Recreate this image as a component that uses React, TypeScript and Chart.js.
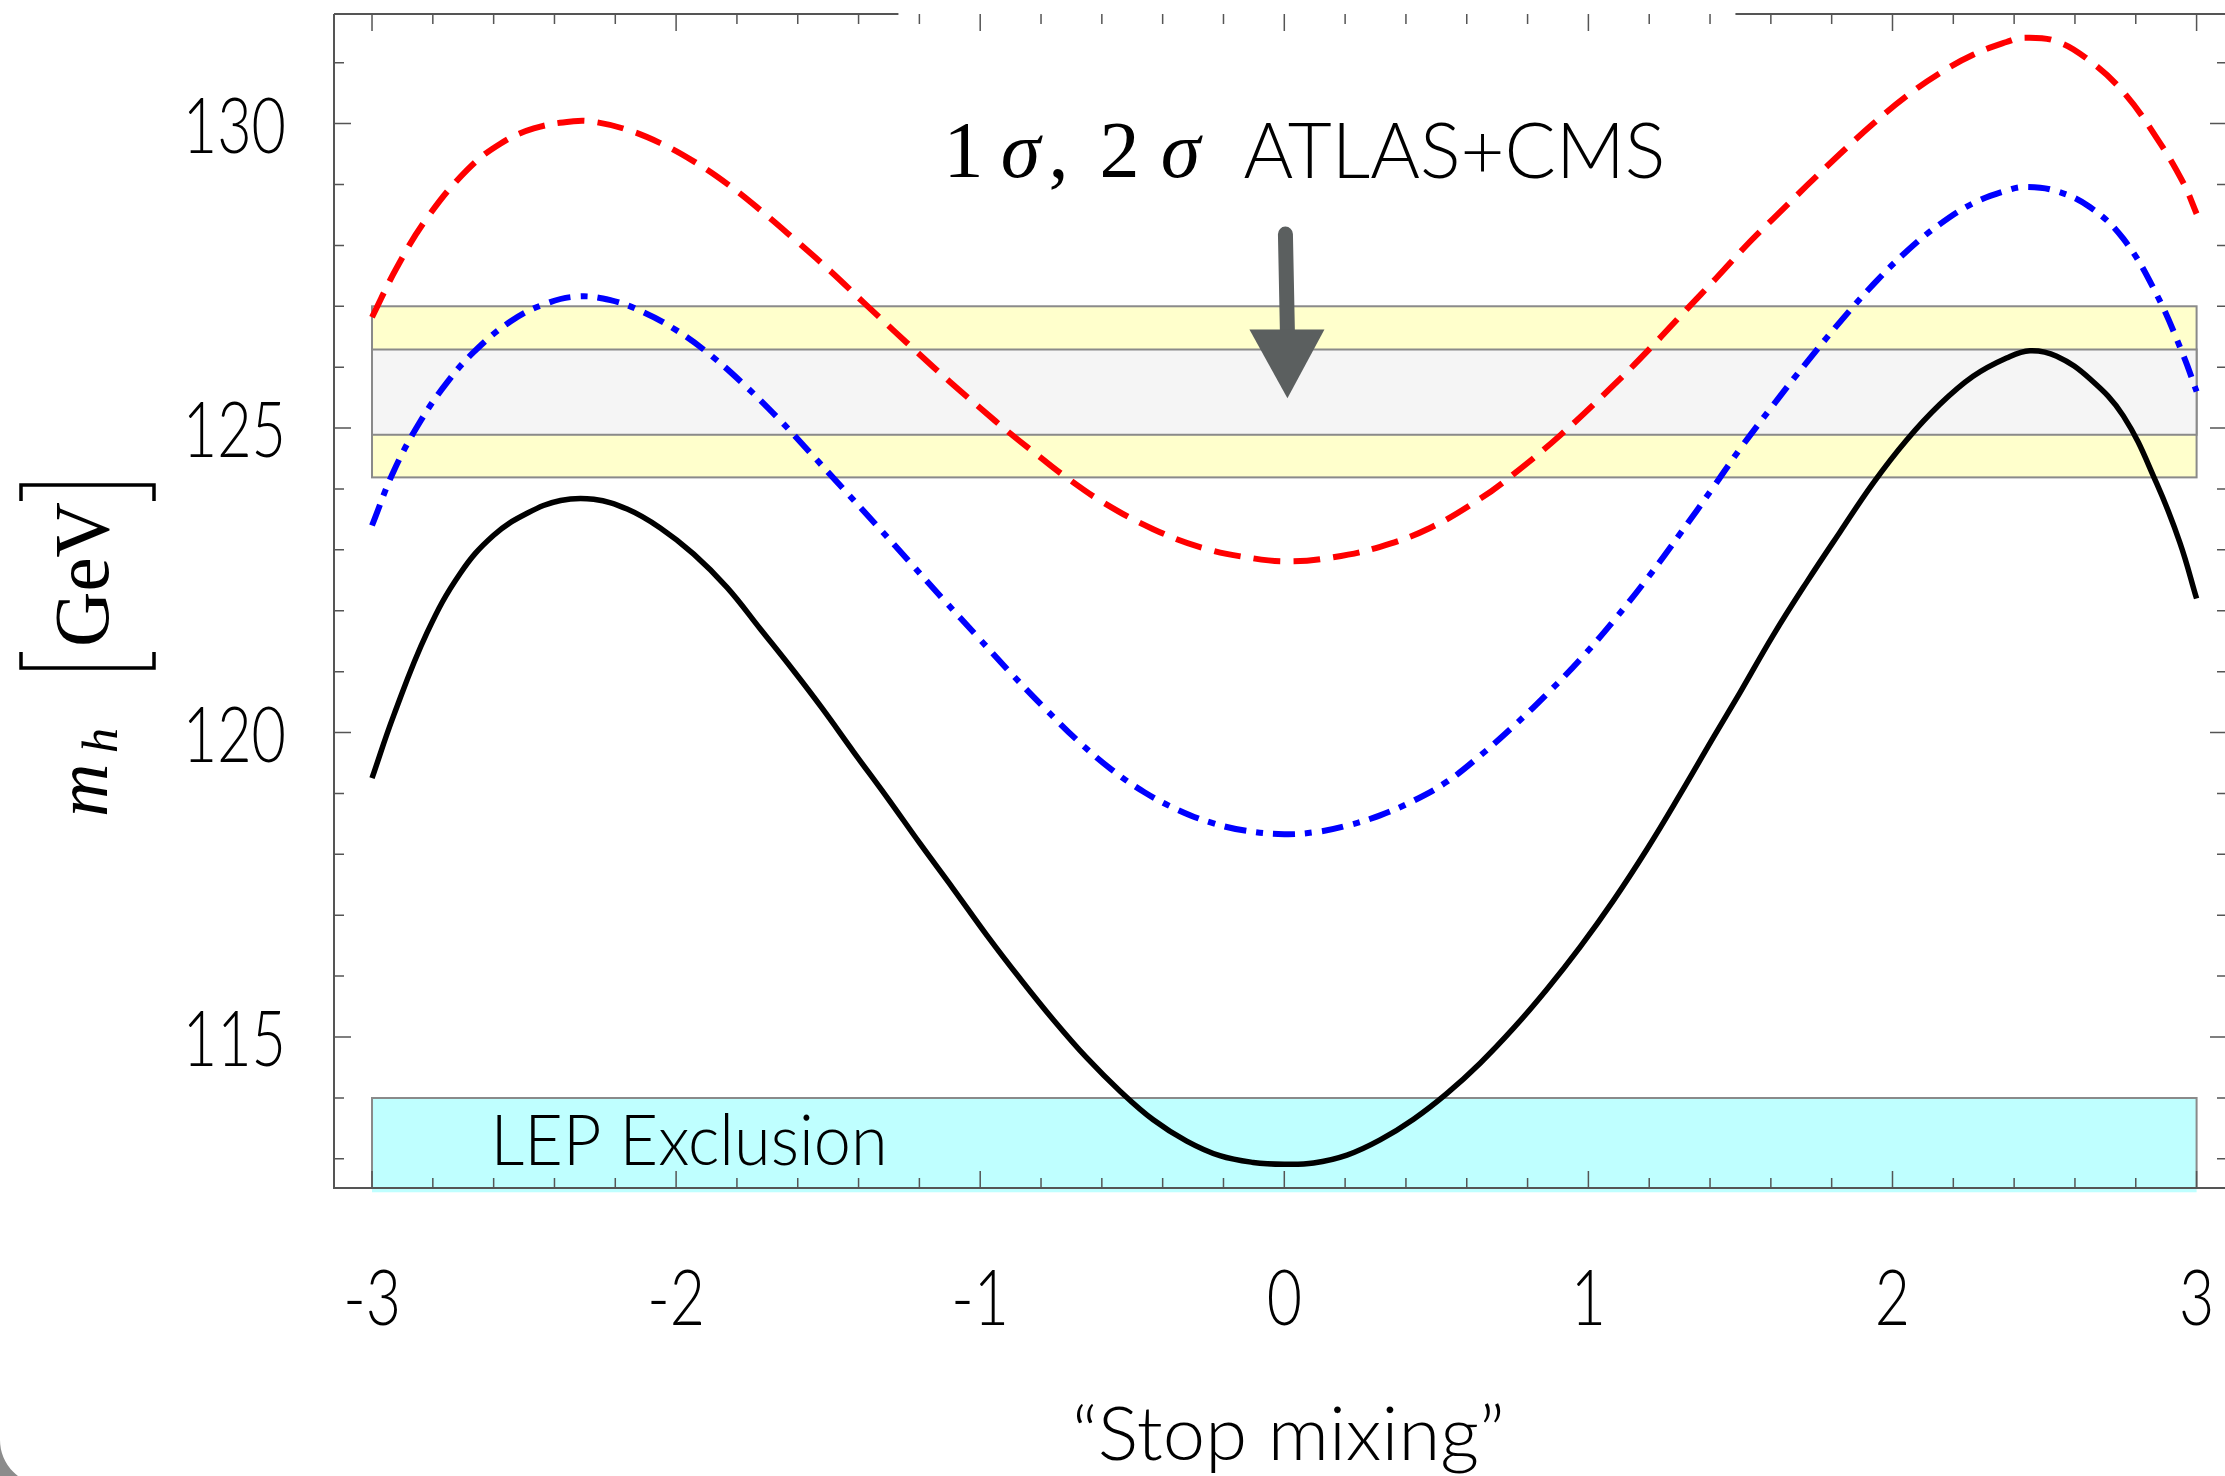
import React, { useEffect, useRef } from "react";
import { Chart, registerables } from "chart.js";

Chart.register(...registerables);

// ---------- data ----------
const blackX = [-3, -2.928, -2.819, -2.709, -2.6, -2.49, -2.38, -2.271, -2.161, -2.052, -1.942, -1.832, -1.723, -1.613, -1.52, -1.416, -1.307, -1.197, -1.088, -0.978, -0.869, -0.759, -0.65, -0.54, -0.431, -0.321, -0.212, -0.102, 0, 0.096, 0.206, 0.315, 0.425, 0.534, 0.644, 0.753, 0.863, 0.973, 1.082, 1.192, 1.301, 1.411, 1.499, 1.608, 1.718, 1.827, 1.937, 2.046, 2.156, 2.265, 2.375, 2.452, 2.54, 2.649, 2.759, 2.868, 2.945, 3];
const blackMh = [119.25, 120.29, 121.64, 122.62, 123.24, 123.6, 123.81, 123.83, 123.67, 123.36, 122.93, 122.38, 121.7, 121.01, 120.4, 119.68, 118.94, 118.17, 117.43, 116.67, 115.96, 115.28, 114.66, 114.11, 113.64, 113.29, 113.05, 112.94, 112.91, 112.93, 113.06, 113.31, 113.65, 114.07, 114.57, 115.14, 115.78, 116.48, 117.24, 118.08, 118.98, 119.92, 120.66, 121.6, 122.47, 123.29, 124.1, 124.8, 125.39, 125.85, 126.15, 126.27, 126.18, 125.81, 125.2, 124.1, 123.12, 122.2];

const redX = [-3, -2.917, -2.819, -2.687, -2.578, -2.468, -2.337, -2.271, -2.161, -2.052, -1.942, -1.832, -1.723, -1.613, -1.493, -1.383, -1.28, -1.208, -1.1, -1, -0.901, -0.8, -0.722, -0.596, -0.431, -0.267, -0.102, 0.018, 0.151, 0.315, 0.479, 0.644, 0.753, 0.907, 1.082, 1.203, 1.323, 1.42, 1.531, 1.608, 1.718, 1.827, 1.937, 2.046, 2.156, 2.265, 2.375, 2.43, 2.54, 2.649, 2.759, 2.868, 2.956, 3];
const redMh = [126.82, 127.65, 128.45, 129.24, 129.67, 129.92, 130.04, 130.03, 129.9, 129.68, 129.38, 129.01, 128.58, 128.11, 127.58, 127.06, 126.58, 126.25, 125.76, 125.33, 124.91, 124.51, 124.21, 123.78, 123.34, 123.03, 122.86, 122.81, 122.87, 123.05, 123.36, 123.84, 124.24, 124.88, 125.7, 126.31, 126.95, 127.46, 128.06, 128.44, 128.98, 129.5, 130.0, 130.45, 130.83, 131.13, 131.34, 131.41, 131.35, 131.03, 130.52, 129.77, 129.03, 128.52];

const blueX = [-3, -2.928, -2.84, -2.753, -2.665, -2.545, -2.435, -2.326, -2.216, -2.106, -1.997, -1.887, -1.778, -1.668, -1.56, -1.45, -1.34, -1.23, -1.12, -1.01, -0.9, -0.79, -0.68, -0.57, -0.46, -0.35, -0.24, -0.13, 0, 0.11, 0.206, 0.315, 0.425, 0.534, 0.644, 0.753, 0.863, 0.973, 1.082, 1.192, 1.301, 1.411, 1.499, 1.608, 1.718, 1.827, 1.937, 2.046, 2.156, 2.265, 2.375, 2.44, 2.54, 2.649, 2.759, 2.868, 2.956, 3];
const blueMh = [123.4, 124.3, 125.12, 125.75, 126.25, 126.75, 127.03, 127.16, 127.1, 126.9, 126.6, 126.2, 125.72, 125.18, 124.6, 124.0, 123.4, 122.79, 122.18, 121.58, 120.98, 120.41, 119.87, 119.4, 119.02, 118.73, 118.52, 118.39, 118.33, 118.37, 118.47, 118.64, 118.88, 119.19, 119.62, 120.1, 120.63, 121.2, 121.83, 122.52, 123.26, 124.03, 124.66, 125.38, 126.08, 126.74, 127.36, 127.9, 128.35, 128.69, 128.9, 128.96, 128.89, 128.63, 128.11, 127.2, 126.2, 125.6];

const bandX = [-3, 3];
const band2Sigma = [124.19, 127.0];
const band1Sigma = [124.89, 126.29];
const lepBand = [112.45, 114.0];

const xRange = [-3.125, 3.1];
const yRange = [112.52, 131.8];
const xTickLabels = [-3, -2, -1, 0, 1, 2, 3];
const yTickLabels = [115, 120, 125, 130];

const arrowX = 0.007;
const arrowY = [128.3, 126.62, 125.49]; // shaft top, head base, tip
const annotY = 129.13;
const lepLabel = { x: -2.61, y: 112.89 };

const SANS = '"Lato", "Open Sans", sans-serif';
const SERIF = '"Liberation Serif", "DejaVu Serif", serif';
const FRAME = "#555555";

function drawScaled(ctx: CanvasRenderingContext2D, text: string, x: number, y: number, sx: number, align: CanvasTextAlign) {
  ctx.save();
  ctx.translate(x, y);
  ctx.scale(sx, 1);
  ctx.textAlign = align;
  ctx.textBaseline = "alphabetic";
  ctx.fillText(text, 0, 0);
  ctx.restore();
}

function drawFit(ctx: CanvasRenderingContext2D, text: string, x: number, y: number, width: number, align: CanvasTextAlign) {
  const w = ctx.measureText(text).width || 1;
  drawScaled(ctx, text, x, y, width / w, align);
}

const decor = {
  id: "decor",
  beforeDatasetsDraw(chart: any) {
    const { ctx, scales, chartArea } = chart;
    const x = scales.x, y = scales.y;
    ctx.save();
    const px0 = x.getPixelForValue(bandX[0]);
    const px1 = x.getPixelForValue(bandX[1]);
    const rect = (yy: number[], fill: string) => {
      const pyTop = y.getPixelForValue(yy[1]);
      const pyBot = y.getPixelForValue(yy[0]);
      ctx.fillStyle = fill;
      ctx.fillRect(px0, pyTop, px1 - px0, pyBot - pyTop);
      ctx.strokeStyle = "#8a8a8a";
      ctx.lineWidth = 2;
      ctx.strokeRect(px0, pyTop, px1 - px0, pyBot - pyTop);
    };
    {
      const pyTop = y.getPixelForValue(lepBand[1]);
      const pyBot = y.getPixelForValue(lepBand[0]);
      ctx.fillStyle = "#bfffff";
      ctx.fillRect(px0, pyTop, px1 - px0, pyBot - pyTop);
      ctx.strokeStyle = "#8a8a8a";
      ctx.lineWidth = 2;
      ctx.beginPath();
      ctx.moveTo(px0, chartArea.bottom);
      ctx.lineTo(px0, pyTop);
      ctx.lineTo(px1, pyTop);
      ctx.lineTo(px1, chartArea.bottom);
      ctx.stroke();
    }
    rect(band2Sigma, "#ffffcc");
    rect(band1Sigma, "#f5f5f5");

    ctx.fillStyle = "#000";
    ctx.font = `300 70px ${SANS}`;
    drawFit(ctx, "LEP Exclusion", x.getPixelForValue(lepLabel.x), y.getPixelForValue(lepLabel.y), 397, "left");
    ctx.restore();
  },
  afterDatasetsDraw(chart: any) {
    const { ctx, scales, chartArea } = chart;
    const x = scales.x, y = scales.y;
    const L = chartArea.left, R = chartArea.right, T = chartArea.top, B = chartArea.bottom;
    const ax = x.getPixelForValue(arrowX);
    ctx.save();

    // frame
    ctx.strokeStyle = FRAME;
    ctx.lineWidth = 2;
    ctx.beginPath();
    ctx.moveTo(L, T); ctx.lineTo(L, B); ctx.lineTo(R, B); ctx.lineTo(R, T);
    ctx.moveTo(L, T); ctx.lineTo(ax - 388, T);
    ctx.moveTo(ax + 449, T); ctx.lineTo(R, T);
    ctx.stroke();

    // ticks
    ctx.lineWidth = 1.5;
    ctx.beginPath();
    for (let i = -15; i <= 15; i++) {
      const px = x.getPixelForValue(i * 0.2);
      const len = i % 5 === 0 ? 17 : 10;
      ctx.moveTo(px, B); ctx.lineTo(px, B - len);
      ctx.moveTo(px, T); ctx.lineTo(px, T + len);
    }
    for (let v = 113; v <= 131; v++) {
      const py = y.getPixelForValue(v);
      const len = v % 5 === 0 ? 17 : 10;
      ctx.moveTo(L, py); ctx.lineTo(L + len, py);
      ctx.moveTo(R, py); ctx.lineTo(R - len, py);
    }
    ctx.stroke();

    // tick labels
    ctx.fillStyle = "#000";
    ctx.font = `300 76px ${SANS}`;
    yTickLabels.forEach((v) => {
      drawScaled(ctx, String(v), L - 48, y.getPixelForValue(v) + 29, 0.78, "right");
    });
    xTickLabels.forEach((v) => {
      drawScaled(ctx, String(v), x.getPixelForValue(v), B + 137, 0.8, "center");
    });

    // x axis title
    ctx.font = `300 74px ${SANS}`;
    drawFit(ctx, "\u201CStop mixing\u201D", ax + 2, B + 272, 433, "center");

    // annotation text
    const base = y.getPixelForValue(annotY);
    ctx.font = `80px ${SERIF}`;
    ctx.textAlign = "center";
    ctx.fillText("1", ax - 323, base);
    ctx.fillText(",", ax - 228, base);
    ctx.fillText("2", ax - 167, base);
    ctx.font = `italic 80px ${SERIF}`;
    ctx.fillText("\u03C3", ax - 266, base);
    ctx.fillText("\u03C3", ax - 106, base);
    ctx.font = `300 76px ${SANS}`;
    drawFit(ctx, "ATLAS+CMS", ax - 43, base + 1, 422, "left");

    // arrow
    const pTop = y.getPixelForValue(arrowY[0]);
    const pBase = y.getPixelForValue(arrowY[1]);
    const pTip = y.getPixelForValue(arrowY[2]);
    ctx.strokeStyle = "#5b5f5f";
    ctx.fillStyle = "#5b5f5f";
    ctx.lineWidth = 15;
    ctx.lineCap = "round";
    ctx.beginPath();
    ctx.moveTo(ax - 1, pTop + 7);
    ctx.lineTo(ax + 1, pBase + 4);
    ctx.stroke();
    ctx.beginPath();
    ctx.moveTo(ax - 37, pBase);
    ctx.lineTo(ax + 38, pBase);
    ctx.lineTo(ax + 1, pTip);
    ctx.closePath();
    ctx.fill();
    ctx.lineCap = "butt";

    // y axis label (rotated)
    ctx.save();
    ctx.rotate(-Math.PI / 2);
    ctx.fillStyle = "#000";
    ctx.textAlign = "left";
    ctx.font = `italic 74px ${SERIF}`;
    ctx.fillText("m", -817, 107);
    ctx.font = `italic 50px ${SERIF}`;
    ctx.fillText("h", -753, 117);
    ctx.font = `78px ${SERIF}`;
    drawFit(ctx, "GeV", -647, 108, 145, "left");
    ctx.strokeStyle = "#000";
    ctx.lineWidth = 3.5;
    ctx.beginPath();
    ctx.moveTo(-652, 21); ctx.lineTo(-668, 21); ctx.lineTo(-668, 154); ctx.lineTo(-652, 154);
    ctx.moveTo(-501, 21); ctx.lineTo(-485, 21); ctx.lineTo(-485, 154); ctx.lineTo(-501, 154);
    ctx.stroke();
    ctx.restore();

    // window corner artifact
    const H = chart.height;
    ctx.fillStyle = "#8c8c8c";
    ctx.beginPath();
    ctx.moveTo(0, H - 36);
    ctx.arc(45, H - 36, 45, Math.PI, Math.PI / 2, true);
    ctx.lineTo(0, H + 9);
    ctx.closePath();
    ctx.fill();

    ctx.restore();
  },
};

const series = (xs: number[], ys: number[]) => xs.map((v, i) => ({ x: v, y: ys[i] }));

export default function App() {
  const ref = useRef<HTMLCanvasElement | null>(null);
  useEffect(() => {
    if (!ref.current) return;
    const common = { pointRadius: 0, fill: false, tension: 0.4, cubicInterpolationMode: "default", borderCapStyle: "butt", borderJoinStyle: "round" };
    const chart = new Chart(ref.current, {
      type: "line",
      data: {
        datasets: [
          { ...common, label: "black", data: series(blackX, blackMh), borderColor: "#000000", borderWidth: 5.5 },
          { ...common, label: "blue", data: series(blueX, blueMh), borderColor: "#0000ff", borderWidth: 6, borderDash: [22, 10, 7, 10] },
          { ...common, label: "red", data: series(redX, redMh), borderColor: "#ff0000", borderWidth: 6, borderDash: [27, 13] },
        ],
      } as any,
      options: {
        animation: false,
        responsive: false,
        devicePixelRatio: 1,
        parsing: false as any,
        layout: { padding: { left: 334, top: 14, right: 1, bottom: 288 } },
        scales: {
          x: { type: "linear", min: xRange[0], max: xRange[1], display: false },
          y: { type: "linear", min: yRange[0], max: yRange[1], display: false },
        },
        plugins: { legend: { display: false }, tooltip: { enabled: false } },
      } as any,
      plugins: [decor as any],
    });
    return () => chart.destroy();
  }, []);
  return (
    <div style={{ position: "fixed", left: 0, top: 0, width: 2225, height: 1476, overflow: "hidden", background: "#fff" }}>
      <canvas ref={ref} width={2228} height={1476} style={{ display: "block", width: 2228, height: 1476 }} />
    </div>
  );
}
